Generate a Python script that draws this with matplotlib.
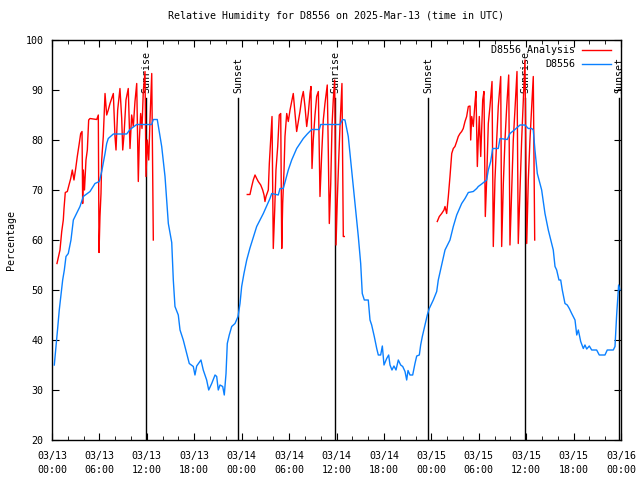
import matplotlib
matplotlib.use("Agg")
import matplotlib.pyplot as plt
import matplotlib.dates as mdates
import pandas as pd

# hours after 2025-03-13 00:00 UTC, relative humidity in percent
obs_hours = [0.29, 0.51, 0.72, 0.92, 1.14, 1.35, 1.56, 1.77, 2.06, 2.40, 2.70, 3.54, 3.96, 4.81,
             5.44, 5.99, 6.29, 6.71, 6.92, 7.12, 7.76, 9.45, 9.87, 10.72, 12.62, 12.82, 13.32,
             13.88, 14.30, 14.72, 15.15, 15.35, 15.56, 15.98, 16.20, 16.61, 17.04, 17.37, 17.88,
             18.09, 18.31, 18.85, 19.14, 19.57, 19.83, 20.21, 20.63, 20.84, 21.04, 21.26, 21.60,
             21.80, 22.02, 22.18, 22.43, 22.74, 23.16, 23.54, 23.79, 24.00, 24.29, 24.64, 25.05,
             25.90, 26.74, 27.58, 27.80, 28.63, 28.85, 29.27, 29.90, 30.33, 30.96, 31.38, 31.80,
             32.30, 32.86, 33.82, 34.00, 36.44, 36.78, 37.07, 37.49, 37.92, 38.34, 38.76, 39.06,
             39.26, 39.52, 40.02, 40.24, 40.45, 40.78, 41.09, 41.29, 41.59, 41.80, 42.01, 42.35,
             42.60, 42.77, 43.02, 43.27, 43.53, 43.82, 44.12, 44.38, 44.67, 44.88, 45.05, 45.30,
             45.64, 45.93, 46.15, 46.48, 46.65, 46.86, 47.20, 47.49, 47.74, 48.25, 48.68, 48.88,
             49.31, 49.73, 50.36, 50.78, 51.21, 51.84, 52.26, 52.68, 53.31, 53.74, 53.94, 54.37,
             55.00, 55.21, 55.51, 55.76, 56.47, 56.69, 57.61, 57.95, 58.58, 59.22, 59.85, 60.27,
             60.70, 60.90, 61.11, 61.41, 61.96, 62.38, 62.80, 63.23, 63.43, 63.65, 63.86, 64.15,
             64.37, 64.57, 64.91, 65.20, 65.46, 65.76, 66.18, 66.40, 66.60, 66.90, 67.23, 67.44,
             67.66, 67.99, 68.29, 68.92, 69.25, 69.97, 70.26, 71.02, 71.24, 71.45, 71.58, 71.70,
             71.87]
obs_rh = [35, 38.7, 42.4, 46, 49, 52, 54, 56.7, 57.3, 60, 64, 66.7, 68.7, 69.7,
          71.3, 71.7, 73.7, 77.3, 79.3, 80.3, 81.2, 81.2, 82.1, 83.1, 83.1, 84.1, 84.1,
          78.7, 72.7, 63.3, 59.5, 52, 46.7, 45, 42, 40, 37.3, 35.3, 34.7,
          33, 34.8, 36, 34, 32, 30, 31.3, 33, 32.7, 30, 31, 30.7,
          29, 33.3, 39.3, 41, 42.7, 43.3, 44.7, 47.3, 50.7, 53.3, 56, 58.4,
          62.7, 65.3, 68.3, 69.3, 69, 70.3, 70.3, 74, 76, 78.3, 79.3, 80.3,
          81.2, 82.1, 82.1, 83.1, 83.1, 84.1, 84, 80.7, 74, 67.3, 60.7, 55.3,
          49.3, 48, 48, 44, 43, 40.7, 38.3, 37, 37, 38.8, 35, 36.3,
          37, 35, 34, 34.8, 34, 36, 35, 34.7, 33.7, 32, 33.9, 33,
          33, 35.3, 36.8, 37, 39, 40.7, 43, 45, 46.3, 48, 49.7, 52,
          55, 58, 60, 62.7, 65, 67.3, 68.3, 69.5, 69.7, 70.3, 70.7, 71.2,
          72, 74, 75.7, 78.3, 78.3, 80.3, 80.1, 81.3, 82.1, 83, 83, 82.3,
          82.3, 82, 78, 73.3, 70, 65.3, 62, 59.3, 58, 54.7, 54, 52,
          52, 50, 47.3, 47, 46.3, 45.3, 44, 41, 42, 39.7, 38.3, 39,
          38.2, 38.8, 38, 38, 37, 37, 38, 38, 38.7, 45, 48, 51,
          50]

ana1_hours = [0.63, 1.01, 1.23, 1.43, 1.52, 1.68, 1.94, 2.15, 2.37, 2.57, 2.78, 3.00, 3.20, 3.42,
              3.63, 3.80, 3.88, 3.96, 4.11, 4.30, 4.47, 4.64, 4.81, 5.66, 5.86, 5.95, 6.07, 6.20,
              6.29, 6.49, 6.71, 6.92, 7.12, 7.34, 7.55, 7.76, 7.97, 8.10, 8.31, 8.60, 8.82, 8.95,
              9.11, 9.36, 9.65, 9.87, 10.08, 10.29, 10.50, 10.72, 10.92, 11.05, 11.22, 11.39,
              11.55, 11.77, 11.89, 12.06, 12.24, 12.40, 12.62, 12.82]
ana1_rh = [55.3, 58, 61.7, 64, 66.3, 69.5, 69.7, 71, 72.3, 74, 72, 74.3, 76.7, 79,
           81.3, 81.7, 67.3, 74, 70, 76, 78, 84, 84.3, 84.1, 85, 57.5, 64.7, 69.3,
           76, 80.7, 89.3, 85, 86, 87.3, 88.3, 89.3, 80.7, 78, 86, 90.3, 84.3, 78,
           81, 88, 90.3, 78.3, 85, 82.7, 87.7, 91.3, 71.7, 80, 85.3, 82.3,
           89.7, 93.7, 72.7, 80, 76, 84, 93.3, 60]

ana2_hours = [24.71, 25.05, 25.27, 25.47, 25.69, 25.90, 26.10, 26.41, 26.66, 26.83, 26.95, 27.08,
              27.37, 27.50, 27.67, 27.84, 28.00, 28.18, 28.34, 28.56, 28.76, 28.94, 29.07, 29.19,
              29.36, 29.48, 29.70, 29.90, 30.12, 30.33, 30.53, 30.75, 30.96, 31.17, 31.38, 31.60,
              31.80, 32.01, 32.23, 32.43, 32.65, 32.77, 32.90, 33.06, 33.28, 33.49, 33.70, 33.91,
              34.13, 34.33, 34.54, 34.83, 34.96, 35.09, 35.27, 35.43, 35.59, 35.77, 35.94, 36.10,
              36.28, 36.44, 36.69, 36.86, 36.99]
ana2_rh = [69.1, 69.1, 70.7, 72, 73, 72.3, 71.7, 71, 70, 69, 67.7, 68.7,
           70, 75.3, 80, 84.7, 58.3, 66, 74, 78.7, 85, 85.3, 58.3, 67.3,
           74, 80.7, 85.3, 83.7, 86, 87.7, 89.3, 85.3, 81.7, 83.7, 85.7, 88.3,
           89.7, 86.7, 82.7, 85.3, 89.3, 90.7, 74.3, 80, 85, 88.7, 89.7, 68.7,
           77.3, 84, 87.3, 91, 78, 63.3, 71.3, 82.7, 88, 92, 59, 68,
           76, 82.7, 91.3, 60.7, 60.7]

ana3_hours = [48.75, 49.01, 49.31, 49.60, 49.73, 49.94, 50.15, 50.36, 50.58, 50.78, 50.99, 51.21,
              51.41, 51.63, 51.84, 52.04, 52.26, 52.47, 52.68, 52.89, 52.98, 53.11, 53.31, 53.52,
              53.65, 53.82, 53.94, 54.07, 54.25, 54.50, 54.66, 54.83, 55.00, 55.21, 55.42, 55.68,
              55.84, 56.05, 56.27, 56.47, 56.78, 56.90, 57.11, 57.32, 57.54, 57.79, 57.95, 58.17,
              58.37, 58.58, 58.84, 59.00, 59.22, 59.43, 59.64, 59.85, 60.07, 60.27, 60.48, 60.70,
              60.90, 61.08]
ana3_rh = [63.7, 64.7, 65.3, 66, 66.7, 65.3, 68.7, 72.7, 77.3, 78.3, 78.7, 79.7,
           80.7, 81.3, 81.7, 82.3, 83.7, 84.7, 86.7, 86.8, 80, 84.7, 82.7, 87.3,
           89.7, 74.7, 80, 84.7, 76.7, 88, 89.7, 64.7, 72, 83.3, 86.7, 91.7,
           58.7, 72, 80, 86.7, 92.7, 58.7, 71.3, 80, 86.7, 93, 59, 70,
           80, 86, 93.7, 59.3, 70, 80, 88, 96, 59.3, 72, 80, 86.7,
           92.7, 60]

sunrise_hours = [11.89, 35.81, 59.85]
sunset_hours = [23.54, 47.58, 71.75]

start = pd.Timestamp("2025-03-13 00:00")


def to_time(hours):
    return start + pd.to_timedelta(hours, unit="h")


plt.rcParams["font.family"] = "DejaVu Sans Mono"
plt.rcParams["font.size"] = 7.2

fig = plt.figure(figsize=(6.4, 4.8), dpi=100)
ax = fig.add_axes([52 / 640, 40 / 480, 569 / 640, 400 / 480])

# sunrise / sunset markers, behind the data
for h in sunrise_hours:
    t = to_time(h)
    ax.plot([t, t], [20, 88.4], color="black", lw=1, zorder=1)
    ax.text(t, 89.4, "Sunrise", rotation=90, ha="center", va="bottom", zorder=1)
for h in sunset_hours:
    t = to_time(h)
    ax.plot([t, t], [20, 88.4], color="black", lw=1, zorder=1)
    ax.text(t, 89.4, "Sunset", rotation=90, ha="center", va="bottom", zorder=1)

red = "#ff0000"
blue = "#0a80ff"
ax.plot(to_time(ana1_hours), ana1_rh, color=red, lw=1, label="D8556 Analysis", zorder=2)
ax.plot(to_time(ana2_hours), ana2_rh, color=red, lw=1, zorder=2)
ax.plot(to_time(ana3_hours), ana3_rh, color=red, lw=1, zorder=2)
ax.plot(to_time(obs_hours), obs_rh, color=blue, lw=1, label="D8556", zorder=3)

ax.set_xlim(start, start + pd.Timedelta(hours=72))
ax.set_ylim(20, 100)
ax.set_yticks(range(20, 101, 10))
ax.xaxis.set_major_locator(mdates.HourLocator(byhour=[0, 6, 12, 18]))
ax.xaxis.set_minor_locator(mdates.HourLocator(byhour=range(0, 24, 2)))
ax.xaxis.set_major_formatter(mdates.DateFormatter("%m/%d\n%H:%M"))
ax.tick_params(axis="x", which="major", pad=8)
ax.tick_params(which="major", direction="in", length=5, top=True, right=True)
ax.tick_params(axis="y", which="major", pad=6)
ax.tick_params(which="minor", direction="in", length=3, top=True, right=True)
for lbl in ax.get_xticklabels():
    lbl.set_linespacing(1.45)
for s in ax.spines.values():
    s.set_linewidth(1)

ax.set_ylabel("Percentage", labelpad=7)
ax.set_title("Relative Humidity for D8556 on 2025-Mar-13 (time in UTC)", fontsize=7.2, pad=15)

leg = ax.legend(loc="upper right", bbox_to_anchor=(1.0, 1.012), frameon=False,
                markerfirst=False, handlelength=2.9, borderaxespad=0.8, borderpad=0.2,
                labelspacing=0.4, handletextpad=0.7)
for txt in leg.get_texts():
    txt.set_ha("right")

fig.savefig("out.png", dpi=100)
